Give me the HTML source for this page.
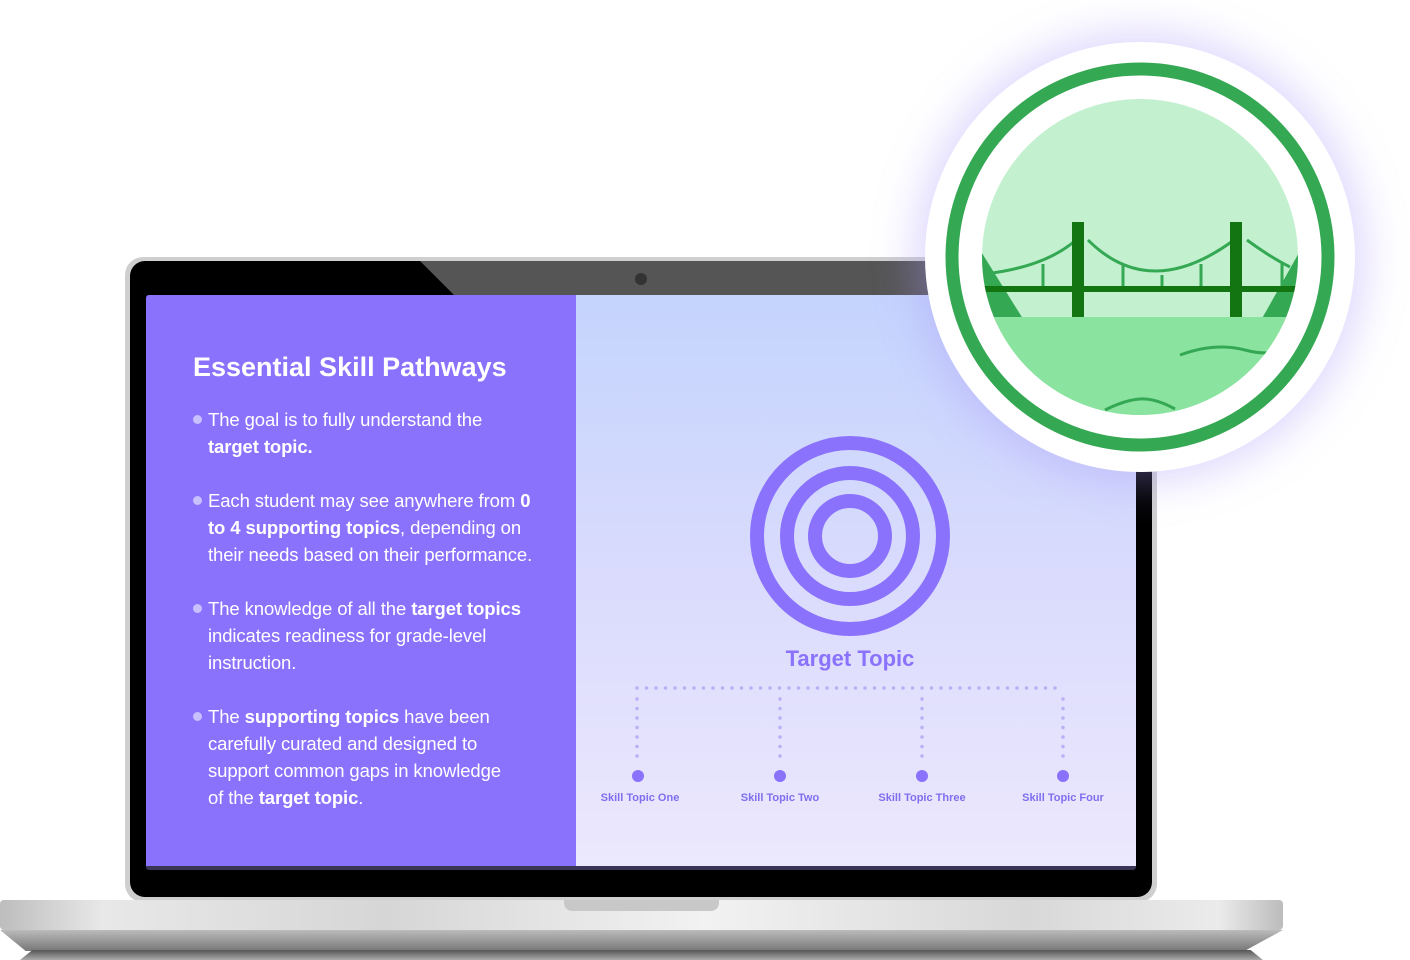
<!DOCTYPE html>
<html><head><meta charset="utf-8"><style>
body{margin:0;width:1410px;height:960px;background:#fff;position:relative;overflow:hidden;font-family:"Liberation Sans",sans-serif}
.a{position:absolute}
.t{color:#fff;font-size:18.5px;line-height:27px;left:208px;white-space:nowrap;letter-spacing:-0.1px}
.t:before{content:"";position:absolute;left:-15px;top:9px;width:9px;height:9px;border-radius:50%;background:#c9c0ff}
.lab{font-size:11px;font-weight:bold;color:#7f6ff0;top:792px;width:120px;text-align:center}
</style></head><body>
<div class="a" style="left:125px;top:257px;width:1032px;height:645px;border-radius:18px;background:#cfcfcf"></div>
<div class="a" style="left:130px;top:261px;width:1022px;height:636px;border-radius:15px;background:#000;overflow:hidden">
 <div class="a" style="left:290px;top:0;width:800px;height:40px;background:#555;clip-path:polygon(0 0,100% 0,100% 100%,40px 100%)"></div>
</div>
<div class="a" style="left:635px;top:273px;width:12px;height:12px;border-radius:50%;background:#333"></div>
<div class="a" style="left:146px;top:295px;width:990px;height:575px;background:#3a3456;border-radius:3px"></div>
<div class="a" style="left:146px;top:295px;width:430px;height:571px;background:#8a72fd;border-radius:3px 0 0 0"></div>
<div class="a" style="left:576px;top:295px;width:560px;height:571px;background:linear-gradient(#c4d4fd,#dcdcfd 55%,#ece8fd)"></div>
<div class="a" style="left:193px;top:352px;color:#fff;font-size:27px;font-weight:bold">Essential Skill Pathways</div>
<div class="a t" style="top:406px">The goal is to fully understand the<br><b>target topic.</b></div>
<div class="a t" style="top:487px">Each student may see anywhere from <b>0</b><br><b>to 4 supporting topics</b>, depending on<br>their needs based on their performance.</div>
<div class="a t" style="top:595px">The knowledge of all the <b>target topics</b><br>indicates readiness for grade-level<br>instruction.</div>
<div class="a t" style="top:703px">The <b>supporting topics</b> have been<br>carefully curated and designed to<br>support common gaps in knowledge<br>of the <b>target topic</b>.</div>
<svg class="a" style="left:0;top:0" width="1410" height="960">
 <g fill="none" stroke="#8a72fd" stroke-width="14">
  <circle cx="850" cy="536" r="93"/><circle cx="850" cy="536" r="63"/><circle cx="850" cy="536" r="35"/>
 </g>
 <g stroke="#b9b0f5" stroke-width="3.5" stroke-linecap="round" stroke-dasharray="0 9.5" fill="none">
  <line x1="637" y1="688" x2="1064" y2="688"/>
  <line x1="637" y1="699" x2="637" y2="762"/><line x1="780" y1="699" x2="780" y2="762"/>
  <line x1="922" y1="699" x2="922" y2="762"/><line x1="1063" y1="699" x2="1063" y2="762"/>
 </g>
 <g fill="#8a72fd"><circle cx="638" cy="776" r="6"/><circle cx="780" cy="776" r="6"/><circle cx="922" cy="776" r="6"/><circle cx="1063" cy="776" r="6"/></g>
</svg>
<div class="a" style="left:750px;top:646px;width:200px;text-align:center;color:#8a72fd;font-size:22px;font-weight:bold">Target Topic</div>
<div class="a lab" style="left:580px">Skill Topic One</div>
<div class="a lab" style="left:720px">Skill Topic Two</div>
<div class="a lab" style="left:862px">Skill Topic Three</div>
<div class="a lab" style="left:1003px">Skill Topic Four</div>
<div class="a" style="left:0;top:900px;width:1283px;height:30px;border-radius:4px;background:linear-gradient(90deg,#bdbdbd,#e8e8e8 8%,#d6d6d6 30%,#f2f2f2 55%,#d8d8d8 80%,#ebebeb 95%,#bcbcbc)"></div>
<div class="a" style="left:564px;top:900px;width:155px;height:11px;border-radius:0 0 8px 8px;background:#c8c8c8"></div>
<div class="a" style="left:0;top:930px;width:1283px;height:21px;background:linear-gradient(#bbb,#777);clip-path:polygon(0 0,100% 0,97% 100%,2% 100%)"></div>
<div class="a" style="left:20px;top:950px;width:1243px;height:10px;background:linear-gradient(#555,#aaa);clip-path:polygon(1% 0,99% 0,100% 100%,0 100%)"></div>
<div class="a" style="left:925px;top:42px;width:430px;height:430px;border-radius:50%;background:#fff;box-shadow:0 0 40px 12px rgba(170,150,250,.35)"></div>
<svg class="a" style="left:925px;top:42px" width="430" height="430">
 <defs><clipPath id="c"><circle cx="215" cy="215" r="158"/></clipPath></defs>
 <circle cx="215" cy="215" r="188" fill="none" stroke="#34a853" stroke-width="13"/>
 <g clip-path="url(#c)">
  <rect x="0" y="0" width="430" height="430" fill="#c3f1cf"/>
  <polygon points="50,200 100,280 40,280" fill="#34a853"/>
  <polygon points="380,200 335,280 390,280" fill="#34a853"/>
  <rect x="0" y="275" width="430" height="160" fill="#8be3a0"/>
  <path d="M60,232 Q120,225 151,198 M163,198 Q225,260 309,198 M322,198 Q345,215 365,225" fill="none" stroke="#34a853" stroke-width="3"/>
  <g stroke="#34a853" stroke-width="3"><line x1="118" y1="222" x2="118" y2="246"/><line x1="198" y1="222" x2="198" y2="246"/><line x1="237" y1="233" x2="237" y2="246"/><line x1="276" y1="222" x2="276" y2="246"/><line x1="357" y1="222" x2="357" y2="246"/></g>
  <rect x="0" y="244" width="430" height="6" fill="#137512"/>
  <rect x="147" y="180" width="12" height="95" fill="#137512"/>
  <rect x="305" y="180" width="12" height="95" fill="#137512"/>
  <path d="M255,313 Q290,300 320,308 T372,303" fill="none" stroke="#34a853" stroke-width="3"/>
  <path d="M180,368 Q200,358 215,357 T250,367" fill="none" stroke="#34a853" stroke-width="3"/>
 </g>
</svg>
</body></html>
